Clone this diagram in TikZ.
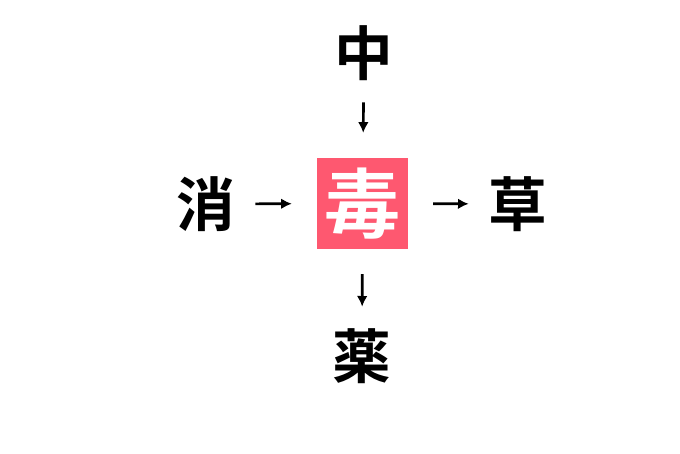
\documentclass[tikz,border=0pt]{standalone}
\usepackage{fontspec}
\newfontfamily\jpfont{Noto Sans CJK JP}[BoldFont={* Bold}]
\usetikzlibrary{arrows.meta}
\definecolor{boxred}{RGB}{254,88,112}
\begin{document}
\begin{tikzpicture}[x=0.75pt, y=-0.75pt, line width=2pt,
  char node/.style={inner sep=0pt, text height=38.7pt, text depth=5.3pt, font=\jpfont\bfseries\fontsize{44pt}{44pt}\selectfont},
  key node/.style={fill=boxred, text=white, minimum size=68pt, inner sep=0pt, font=\jpfont\bfseries\fontsize{57pt}{57pt}\selectfont},
  to box/.style={-{Latex[length=8pt,width=8pt]}, shorten <=14pt, shorten >=18pt},
  from box/.style={-{Latex[length=8pt,width=8pt]}, shorten <=18pt, shorten >=14pt}]
\useasboundingbox (0,0) rectangle (680,453);
\node [key node] (du) at (362.5,203.5) {毒};
\node [char node] (naka) at (364,53) {中};
\node [char node] (kesu) at (206,204) {消};
\node [char node] (kusa) at (518,204) {草};
\node [char node] (kusuri) at (362,356) {薬};
\path
  (naka) edge [to box] (du)
  (kesu) edge [to box] (du)
  (du) edge [from box] (kusa)
  (du) edge [from box] (kusuri)
  ;
\end{tikzpicture}
\end{document}
